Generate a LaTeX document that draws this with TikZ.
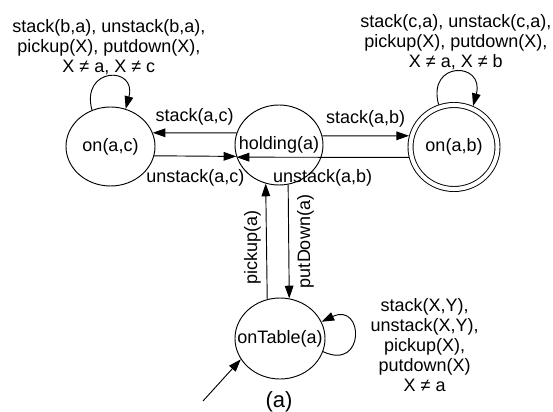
\documentclass[tikz,border=0pt]{standalone}
\usepackage{fontspec}
\setmainfont{Liberation Sans}
\usepackage{tikz}
\usetikzlibrary{shapes.geometric,arrows.meta}
\newcommand{\stname}[1]{\makebox[0pt]{#1}}

\begin{document}
\begin{tikzpicture}[x=0.75pt,y=0.75pt,line width=0.7pt,
  font=\fontsize{13.5}{15}\selectfont,
  >={Triangle[length=9.5pt,width=6.5pt]},
  state/.style={ellipse,draw,inner sep=0pt},
  accept/.style={state,double,double distance=3.05pt,outer sep=2.2pt},
  lab/.style={inner sep=0pt,align=center}]
\useasboundingbox (0,0) rectangle (553,411);

\node[state,minimum width=66.75pt,minimum height=59.25pt] (1) at (110.5,264.5) {\stname{on(a,c)}};

\node[state,minimum width=66pt,minimum height=60pt] (2) at (279,266) {\stname{holding(a)}};

\node[accept,minimum width=65.25pt,minimum height=63pt] (3) at (454,264) {\stname{on(a,b)}};

\node[state,minimum width=67.5pt,minimum height=60.75pt] (4) at (280,72.5) {\stname{onTable(a)}};

\coordinate (0) at (203,10);
\node[font=\fontsize{16.5}{18}\selectfont] (5) at (279,9) {(a)};

\draw[->] (2.164) -- node[lab,above=5pt] {stack(a,c)} (1.18) ;
\draw[->] (1.-12) -- node[lab,below=9.5pt] {unstack(a,c)} (2.195) ;
\draw[->] (2.12) -- node[lab,above=6pt] {stack(a,b)} (3.166) ;
\draw[->] (3.193) -- node[lab,below=9pt] {unstack(a,b)} (2.196) ;
\draw[->] (4.108) -- node[lab,rotate=90,anchor=south,inner sep=4pt,pos=.45] {pickup(a)} (2.251) ;
\draw[->] (2.283) -- node[lab,rotate=90,anchor=north,inner sep=6pt] {putDown(a)} (4.77) ;

\draw[->] (1.117) to[out=105,in=75,looseness=3.4] node[lab,above=1pt] {stack(b,a), unstack(b,a),\\pickup(X), putdown(X),\\X ≠ a, X ≠ c} (1.68) ;
\draw[->] (3.110) to[out=105,in=75,looseness=3.4] node[lab,above=1pt] {stack(c,a), unstack(c,a),\\pickup(X), putdown(X),\\X ≠ a, X ≠ b} (3.65) ;
\draw[->] (4.-17) to[out=-25,in=25,looseness=4] node[lab,right=12pt,yshift=-6pt] {stack(X,Y),\\unstack(X,Y),\\pickup(X),\\putdown(X)\\X ≠ a} (4.22) ;

\draw[->] (0) -- (4.208) ;

\end{tikzpicture}
\end{document}
